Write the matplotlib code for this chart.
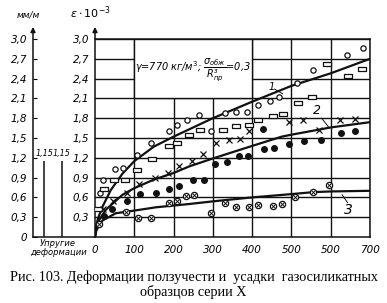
import numpy as np
import matplotlib
matplotlib.use("Agg")
import matplotlib.pyplot as plt
from matplotlib.patches import Rectangle
from matplotlib.path import Path

# --- data ---
x_ticks = [0, 100, 200, 300, 400, 500, 600, 700]
x_tick_labels = ["0", "100", "200", "300", "400", "500", "500", "700"]
y_ticks = [0, 0.3, 0.6, 0.9, 1.2, 1.5, 1.8, 2.1, 2.4, 2.7, 3.0]
y_tick_labels = ["0", "0,3", "0,6", "0,9", "1,2", "1,5", "1,8", "2,1", "2,4", "2,7", "3,0"]

# open circles
circ_x = [12, 20, 52, 71, 107, 142, 188, 209, 234, 264, 294, 330, 359, 388, 414, 446, 469, 515, 556, 642, 681]
circ_y = [0.67, 0.86, 1.03, 1.04, 1.24, 1.43, 1.60, 1.70, 1.78, 1.85, 1.60, 1.88, 1.89, 1.90, 2.00, 2.06, 2.12, 2.34, 2.53, 2.76, 2.87]
# open rectangles
rect_x = [8, 23, 48, 77, 107, 145, 188, 209, 238, 268, 326, 359, 391, 416, 452, 478, 516, 553, 591, 645, 679]
rect_y = [0.42, 0.72, 0.86, 0.86, 1.01, 1.18, 1.38, 1.43, 1.54, 1.62, 1.62, 1.68, 1.70, 1.78, 1.84, 1.86, 2.03, 2.12, 2.62, 2.44, 2.54]
# crosses
cross_x = [20, 46, 81, 111, 152, 187, 213, 248, 275, 308, 342, 369, 391, 494, 530, 571, 623, 661]
cross_y = [0.42, 0.54, 0.67, 0.80, 0.89, 0.97, 1.07, 1.15, 1.26, 1.43, 1.47, 1.48, 1.60, 1.75, 1.77, 1.62, 1.77, 1.79]
# filled dots
dot_x = [24, 43, 82, 115, 156, 188, 215, 249, 278, 305, 335, 367, 390, 428, 430, 455, 494, 531, 574, 625, 662]
dot_y = [0.32, 0.42, 0.54, 0.65, 0.67, 0.72, 0.78, 0.86, 0.87, 1.10, 1.13, 1.23, 1.23, 1.64, 1.34, 1.35, 1.41, 1.45, 1.47, 1.57, 1.60]
# hatched circles
hc_x = [9, 80, 109, 142, 188, 209, 232, 252, 294, 330, 359, 391, 415, 452, 476, 509, 555, 596]
hc_y = [0.20, 0.38, 0.29, 0.29, 0.52, 0.54, 0.62, 0.64, 0.37, 0.51, 0.455, 0.46, 0.48, 0.475, 0.50, 0.61, 0.68, 0.79]

# fitted curves 1, 2, 3
c1_x = [0, 3, 8, 20, 40, 70, 100, 150, 200, 250, 300, 400, 500, 600, 700]
c1_y = [0, 0.17, 0.29, 0.47, 0.71, 0.96, 1.15, 1.37, 1.52, 1.66, 1.80, 2.05, 2.29, 2.48, 2.70]
c2_x = [0, 3, 10, 27, 70, 100, 150, 200, 240, 300, 400, 475, 500, 600, 700]
c2_y = [0, 0.12, 0.25, 0.41, 0.64, 0.74, 0.87, 0.97, 1.07, 1.19, 1.38, 1.52, 1.55, 1.66, 1.74]
c3_x = [0, 3, 8, 19, 53, 100, 155, 240, 300, 400, 500, 556, 600, 700]
c3_y = [0, 0.09, 0.15, 0.25, 0.36, 0.40, 0.45, 0.50, 0.54, 0.60, 0.65, 0.68, 0.69, 0.70]

elastic = [1.15, 1.15]

W, H = 387, 303
fig = plt.figure(figsize=(W / 100, H / 100), dpi=100)
ax = fig.add_axes([95 / W, 66 / H, 275 / W, 198 / H])
aux = fig.add_axes([33 / W, 66 / H, 62 / W, 198 / H])

ink = "#111111"
ax.set_xlim(0, 700)
ax.set_ylim(0, 3.0)
for xv in x_ticks[1:]:
    ax.axvline(xv, color=ink, lw=1.0, zorder=1)
for yv in y_ticks[1:]:
    ax.axhline(yv, color=ink, lw=1.0, zorder=1)
# blank box with the parameters
ax.add_patch(Rectangle((100, 2.1), 300, 0.9, facecolor="white", edgecolor=ink, lw=1.0, zorder=2))
ax.text(250, 2.53, r"$\gamma$=770 кг/м$^3$; $\dfrac{\sigma_{обж}}{R^{з}_{пр}}$=0,3",
        ha="center", va="center", fontsize=7, style="italic", zorder=3)

ax.plot(c1_x, c1_y, color=ink, lw=1.6, zorder=4)
ax.plot(c2_x, c2_y, color=ink, lw=1.6, zorder=4)
ax.plot(c3_x, c3_y, color=ink, lw=1.6, zorder=4)

rect_marker = Path([(-1, -0.55), (1, -0.55), (1, 0.55), (-1, 0.55), (-1, -0.55)],
                   [Path.MOVETO, Path.LINETO, Path.LINETO, Path.LINETO, Path.CLOSEPOLY])
ax.plot(circ_x, circ_y, "o", ms=3.8, mfc="white", mec=ink, mew=0.9, zorder=5)
ax.plot(rect_x, rect_y, ls="none", marker=rect_marker, ms=5.5, mfc="white", mec=ink, mew=0.9, zorder=5)
ax.plot(cross_x, cross_y, "x", ms=4, mec=ink, mew=0.9, zorder=5)
ax.plot(dot_x, dot_y, "o", ms=4, mfc=ink, mec=ink, zorder=5)
ax.plot(hc_x, hc_y, "o", ms=4.5, mfc="white", mec=ink, mew=0.9, zorder=5)
ax.plot(hc_x, hc_y, "x", ms=2.8, mec=ink, mew=0.7, zorder=6)

# curve numbers
ax.text(449, 2.27, "1", fontsize=7, style="italic", ha="center", va="center")
ax.plot([457, 478], [2.24, 2.17], color=ink, lw=0.7)
ax.text(564, 1.92, "2", fontsize=9, style="italic", ha="center", va="center")
ax.plot([577, 594], [1.80, 1.67], color=ink, lw=0.7)
ax.text(646, 0.41, "3", fontsize=10, style="italic", ha="center", va="center")
ax.plot([629, 643], [0.64, 0.52], color=ink, lw=0.7)

for s in ax.spines.values():
    s.set_color(ink)
    s.set_linewidth(1.1)
ax.set_xticks(x_ticks)
ax.set_xticklabels(x_tick_labels, fontsize=7.5, style="italic")
ax.set_yticks(y_ticks)
# the main axis shares the "0" of the x axis
ax.set_yticklabels([""] + y_tick_labels[1:], fontsize=7.5, style="italic")
ax.tick_params(axis="y", length=0, pad=4)
ax.tick_params(axis="x", length=0, pad=6)
ax.annotate("", xy=(0, 1.075), xytext=(0, 0.99), xycoords="axes fraction",
            arrowprops=dict(arrowstyle="-|>", color=ink, lw=1.1, mutation_scale=7))
fig.text(90 / W, 1 - 13 / H, r"$\epsilon\cdot10^{-3}$", fontsize=8, style="italic", ha="center", va="center")

# elastic deformation axis
aux.set_xlim(0, 1)
aux.set_ylim(0, 3.0)
aux.patch.set_alpha(0)
for s in ["top", "right"]:
    aux.spines[s].set_visible(False)
for s in ["left", "bottom"]:
    aux.spines[s].set_color(ink)
    aux.spines[s].set_linewidth(1.1)
aux.set_xticks([])
aux.set_yticks(y_ticks)
aux.set_yticklabels(y_tick_labels, fontsize=7.5, style="italic")
aux.tick_params(axis="y", direction="in", length=3, pad=4)
aux.vlines([0.18, 0.46], 0, elastic, color=ink, lw=1.1)
for xp, v in zip([0.18, 0.46], elastic):
    aux.text(xp, v + 0.04, ("%.2f" % v).replace(".", ","), fontsize=5.8, style="italic", ha="center", va="bottom")
aux.annotate("", xy=(0, 1.075), xytext=(0, 0.99), xycoords="axes fraction",
             arrowprops=dict(arrowstyle="-|>", color=ink, lw=1.1, mutation_scale=7))
fig.text(28 / W, 1 - 15 / H, "мм/м", fontsize=6.5, style="italic", ha="center", va="center")
fig.text(58 / W, 1 - 248 / H, "Упругие\nдеформации", fontsize=6, style="italic",
         ha="center", va="center", linespacing=0.9)

# caption
fig.text(0.5, 1 - 277 / H, "Рис. 103. Деформации ползучести и  усадки  газосиликатных",
         fontsize=10.2, family="Liberation Serif", ha="center", va="center")
fig.text(0.5, 1 - 292 / H, "образцов серии X",
         fontsize=10.2, family="Liberation Serif", ha="center", va="center")

fig.savefig("out.png", dpi=100)
